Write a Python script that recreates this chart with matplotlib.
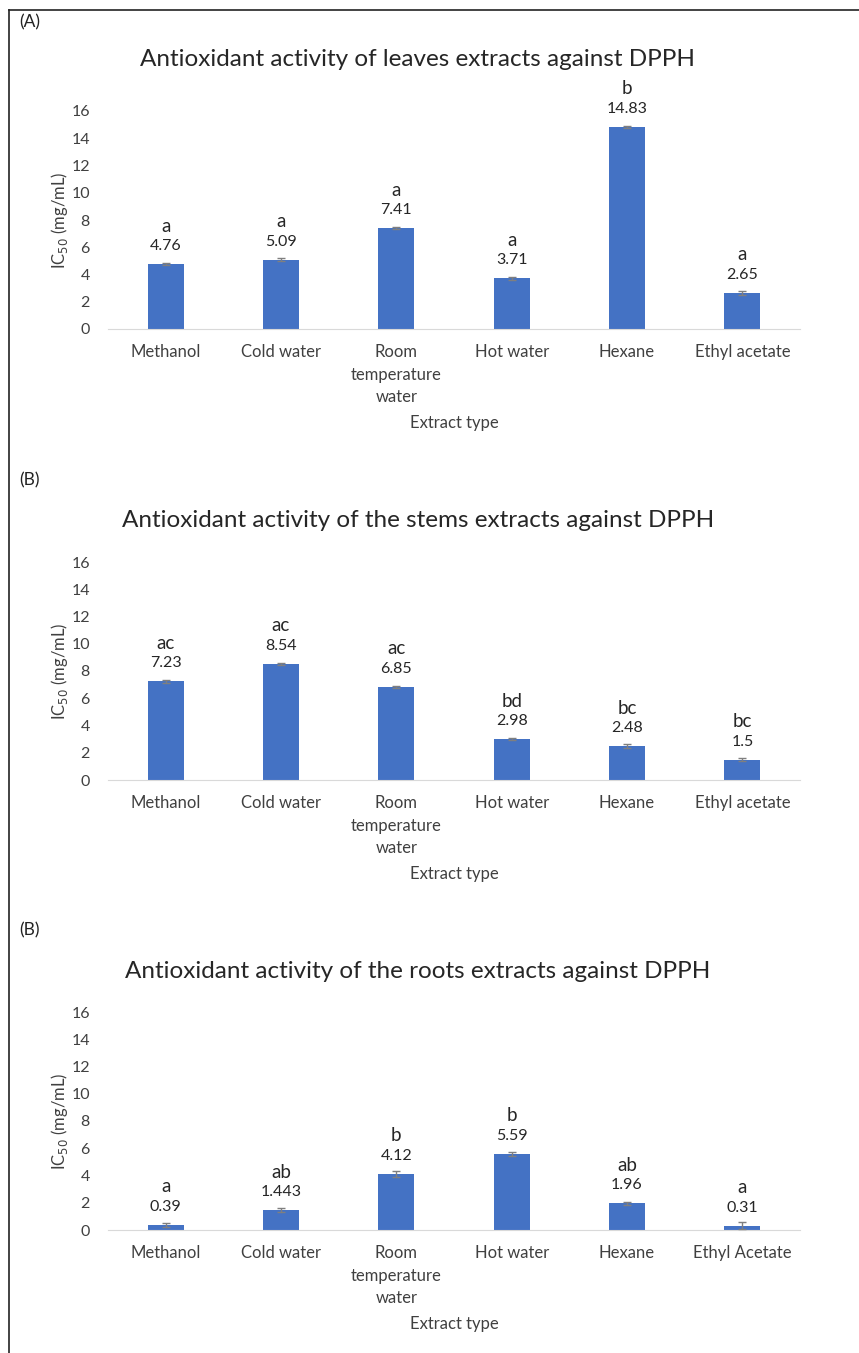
import numpy as np
import matplotlib
matplotlib.use('Agg')
import matplotlib.pyplot as plt
from matplotlib.lines import Line2D

plt.rcParams['font.family'] = ['Lato', 'DejaVu Sans']

# --- data ---
categories = ['Methanol', 'Cold water', 'Room\ntemperature\nwater', 'Hot water', 'Hexane', 'Ethyl acetate']
categories_roots = ['Methanol', 'Cold water', 'Room\ntemperature\nwater', 'Hot water', 'Hexane', 'Ethyl Acetate']

leaves_vals = [4.76, 5.09, 7.41, 3.71, 14.83, 2.65]
leaves_err = [0.08, 0.1, 0.08, 0.1, 0.1, 0.12]
leaves_labels = ['4.76', '5.09', '7.41', '3.71', '14.83', '2.65']
leaves_letters = ['a', 'a', 'a', 'a', 'b', 'a']

stems_vals = [7.23, 8.54, 6.85, 2.98, 2.48, 1.5]
stems_err = [0.08, 0.08, 0.08, 0.08, 0.15, 0.1]
stems_labels = ['7.23', '8.54', '6.85', '2.98', '2.48', '1.5']
stems_letters = ['ac', 'ac', 'ac', 'bd', 'bc', 'bc']

roots_vals = [0.39, 1.443, 4.12, 5.59, 1.96, 0.31]
roots_err = [0.15, 0.15, 0.2, 0.15, 0.1, 0.25]
roots_labels = ['0.39', '1.443', '4.12', '5.59', '1.96', '0.31']
roots_letters = ['a', 'ab', 'b', 'b', 'ab', 'a']

yticks = [0, 2, 4, 6, 8, 10, 12, 14, 16]

W, H = 859, 1353
fig = plt.figure(figsize=(W / 100, H / 100), dpi=100)

# frame around the figure
fig.add_artist(Line2D([9 / W, 9 / W], [0, 1 - 10 / H], color='#222222', lw=1.2))
fig.add_artist(Line2D([9 / W, 1], [1 - 10 / H, 1 - 10 / H], color='#222222', lw=1.2))

panels = [
    ('(A)', 'Antioxidant activity of leaves extracts against DPPH', categories,
     leaves_vals, leaves_err, leaves_labels, leaves_letters, 329, 22, 60),
    ('(B)', 'Antioxidant activity of the stems extracts against DPPH', categories,
     stems_vals, stems_err, stems_labels, stems_letters, 780, 480, 521),
    ('(B)', 'Antioxidant activity of the roots extracts against DPPH', categories_roots,
     roots_vals, roots_err, roots_labels, roots_letters, 1230, 930, 972),
]

x_left, x_right = 108, 800
axh = 218
for tag, title, cats, vals, errs, labs, lets, y0, ytag, ytitle in panels:
    ax = fig.add_axes([x_left / W, 1 - y0 / H, (x_right - x_left) / W, axh / H])
    x = np.arange(len(cats))
    ax.bar(x, vals, width=0.31, color='#4472C4', zorder=2)
    ax.errorbar(x, vals, yerr=errs, fmt='none', ecolor='#7f7f7f', elinewidth=1,
                capsize=3, capthick=1, zorder=3)
    for xi, v, lab, let in zip(x, vals, labs, lets):
        ax.annotate(lab, (xi, v), xytext=(0, 18), textcoords='offset pixels',
                    ha='center', va='center', fontsize=11.5, color='#262626')
        ax.annotate(let, (xi, v), xytext=(0, 38), textcoords='offset pixels',
                    ha='center', va='center', fontsize=13.5, color='#262626')
    ax.set_xlim(-0.5, len(cats) - 0.5)
    ax.set_ylim(0, 16)
    ax.set_yticks(yticks)
    ax.set_xticks(x)
    ax.set_xticklabels(cats, fontsize=12, color='#404040', linespacing=1.5)
    ax.tick_params(axis='both', length=0, colors='#404040')
    ax.tick_params(axis='y', labelsize=11.5, pad=13)
    ax.tick_params(axis='x', pad=11)
    for s in ['top', 'right', 'left']:
        ax.spines[s].set_visible(False)
    ax.spines['bottom'].set_color('#d9d9d9')
    ax.set_facecolor('none')
    fig.text(59 / W, 1 - (y0 - axh / 2) / H, 'IC$_{50}$ (mg/mL)', rotation=90,
             ha='center', va='center', fontsize=12, color='#404040')
    fig.text((x_left + x_right) / 2 / W, 1 - (y0 + 94) / H, 'Extract type',
             ha='center', va='center', fontsize=12, color='#404040')
    fig.text(19 / W, 1 - ytag / H, tag, ha='left', va='center', fontsize=12.5, color='#222222')
    fig.text(418 / W, 1 - ytitle / H, title, ha='center', va='center', fontsize=17.5, color='#262626')

fig.savefig('out.png', dpi=100)
